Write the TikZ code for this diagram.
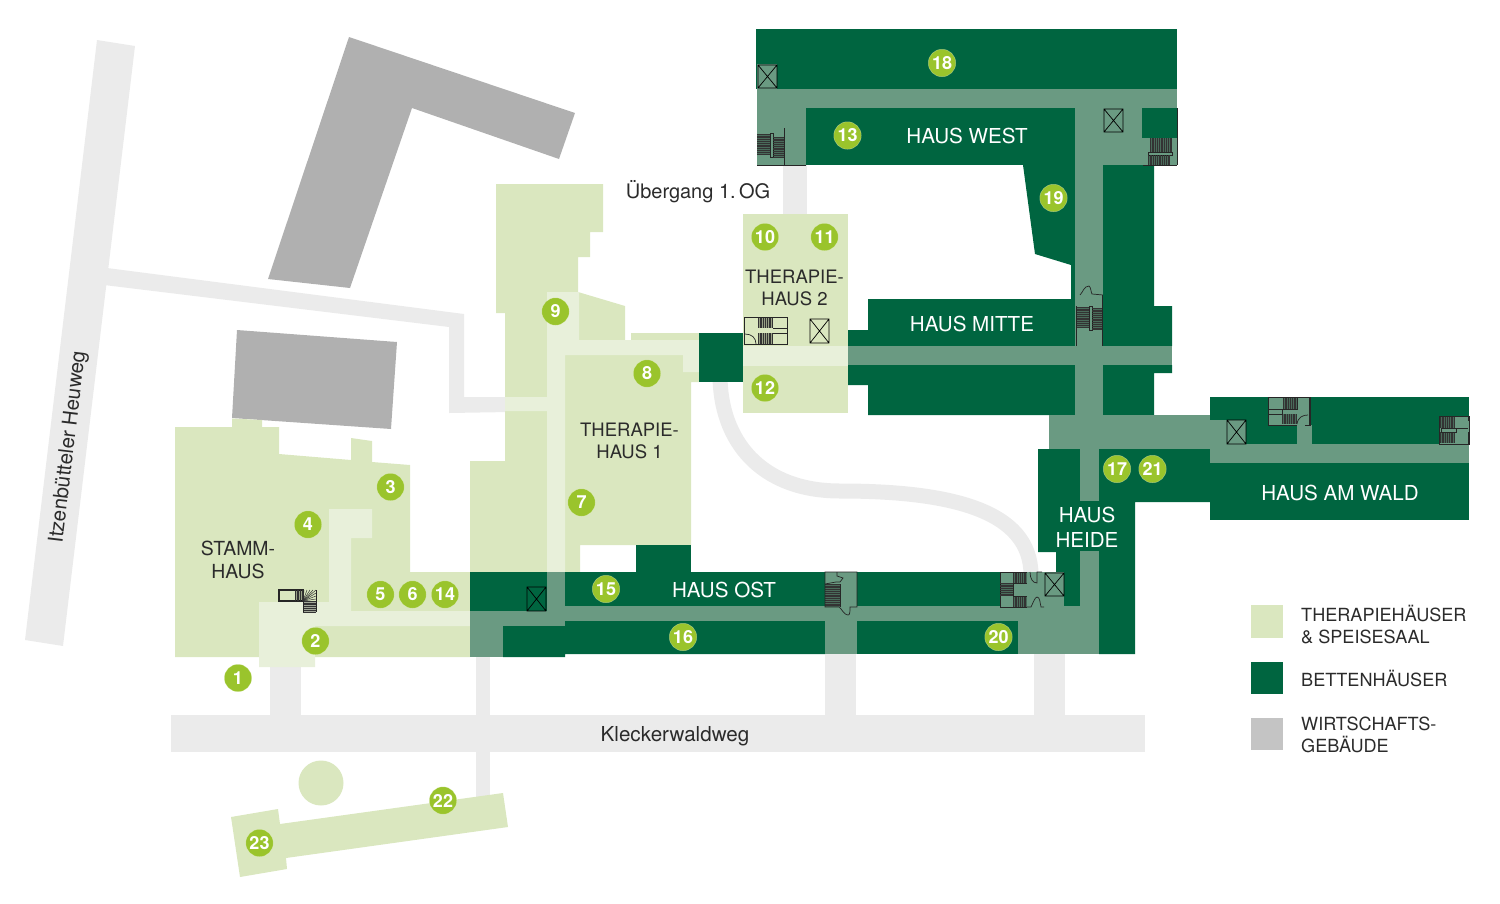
\documentclass[tikz,border=0pt]{standalone}
\usepackage{fontspec}
\setmainfont{TeX Gyre Heros}
\definecolor{roadc}{HTML}{EBEBEB}
\definecolor{greyb}{HTML}{B0B0B0}
\definecolor{greyl}{HTML}{C4C4C4}
\definecolor{lightg}{HTML}{DAE7BF}
\definecolor{lightc}{HTML}{E8F0DA}
\definecolor{darkg}{HTML}{006540}
\definecolor{corr}{HTML}{6A9A82}
\definecolor{badgec}{HTML}{9AC42C}
\definecolor{inkc}{HTML}{2B2B2B}
\tikzset{
  road/.style={fill=roadc},
  grayhouse/.style={fill=greyb},
  therapy/.style={fill=lightg},
  therapycorr/.style={fill=lightc},
  bedhouse/.style={fill=darkg},
  bedcorr/.style={fill=corr},
  badge/.style={circle,fill=badgec,draw=white,draw opacity=.35,line width=.5pt,minimum size=27.5pt,inner sep=0pt,text=white,font=\fontsize{18}{18}\selectfont\bfseries},
  darklabel/.style={text=inkc,align=center,inner sep=0pt,font=\fontsize{18.5}{22.5}\selectfont},
  whitelabel/.style={text=white,align=center,inner sep=0pt,font=\fontsize{20.6}{25}\selectfont},
  legendlabel/.style={text=inkc,align=left,anchor=west,inner sep=0pt,font=\fontsize{18.1}{22}\selectfont},
  lift/.style={draw=black,line width=.7pt},
  stairline/.style={draw=black!80,line width=.5pt},
  planline/.style={draw=black!85,line width=.7pt},
  heavyline/.style={draw=black!85,line width=1.2pt},
}
\newcommand{\hatchV}[4]{%
  \fill[black,opacity=.3] (#1,#2) rectangle (#3,#4);
  \pgfmathsetmacro{\hn}{int((#3-#1)/1.8)}
  \foreach \k in {0,...,\hn}{\draw[stairline] ({#1+1.8*\k},#2) -- ({#1+1.8*\k},#4);}
}
\newcommand{\hatchH}[4]{%
  \fill[black,opacity=.3] (#1,#2) rectangle (#3,#4);
  \pgfmathsetmacro{\hn}{int((#4-#2)/1.8)}
  \foreach \k in {0,...,\hn}{\draw[stairline] (#1,{#2+1.8*\k}) -- (#3,{#2+1.8*\k});}
}
\newcommand{\liftbox}[4]{\draw[lift] (#1,#2) rectangle (#3,#4) (#1,#2) -- (#3,#4) (#1,#4) -- (#3,#2);}
\begin{document}
\begin{tikzpicture}[x=1pt,y=-1pt]
\useasboundingbox (0,0) rectangle (1500,903);
% roads
\fill[road] (97,40) -- (135,46) -- (63,646) -- (25,640) -- cycle;
\fill[road] (107,268) -- (464,314) -- (464,397) -- (510,397) -- (510,412) -- (449,413) -- (449,327) -- (104,285) -- cycle;
\fill[road] (171,715) rectangle (1145,752);
\fill[road] (270,660) rectangle (301,715);
\fill[road] (476,657) rectangle (490,797);
\fill[road] (825,654) rectangle (856,715);
\fill[road] (1034,654) rectangle (1065,715);
\fill[road] (783,160) rectangle (807,216);
\draw[roadc,line width=15pt] (720,375) .. controls (720,440) and (760,491) .. (840,491) .. controls (950,491) and (1031,510) .. (1031,575);
% service buildings
\fill[grayhouse] (349,37) -- (575,113) -- (559,159) -- (412,108) -- (350,288) -- (268,279) -- cycle;
\fill[grayhouse] (237,330) -- (397,342) -- (391,429) -- (232,418) -- cycle;
% therapy houses
\fill[therapy] (175,427) -- (232,427) -- (232,418.5) -- (262,420) -- (262,427) -- (279,427) -- (279,454) -- (351,460) -- (351,438) -- (372,441) -- (372,462) -- (410,465) -- (410,572) -- (470,572) -- (470,657) -- (175,657) -- cycle;
\fill[therapycorr] (259,602) -- (329,602) -- (329,509) -- (372,509) -- (372,538) -- (351,538) -- (351,611) -- (470,611) -- (470,626) -- (315,626) -- (315,667) -- (259,667) -- cycle;
\fill[therapy] (496,184) -- (603,184) -- (603,232) -- (590,232) -- (590,257) -- (578,257) -- (578,292) -- (625,306) -- (625,340) -- (631,340) -- (631,333) -- (699,333) -- (699,382) -- (691,382) -- (691,545) -- (580,545) -- (580,572) -- (470,572) -- (470,461) -- (505,461) -- (505,313) -- (496,313) -- cycle;
\fill[therapycorr] (547,292) -- (579,292) -- (579,340) -- (699,340) -- (699,372) -- (683,372) -- (683,355) -- (565,355) -- (565,572) -- (547,572) -- (547,411) -- (505,411) -- (505,397) -- (547,397) -- cycle;
% bed houses: rooms
\fill[bedhouse] (756,29) rectangle (1177,89);
\fill[bedhouse] (806,108) rectangle (1075,165);
\fill[bedhouse] (1023,165) -- (1075,165) -- (1075,299) -- (1071,299) -- (1071,265) -- (1035,254) -- cycle;
\fill[bedhouse] (848,330) -- (868,330) -- (868,299) -- (1075,299) -- (1075,346) -- (848,346) -- cycle;
\fill[bedhouse] (848,365) -- (1075,365) -- (1075,415) -- (868,415) -- (868,385) -- (848,385) -- cycle;
\fill[bedhouse] (1142,108) rectangle (1177,138);
\fill[bedhouse] (1103,165) -- (1154,165) -- (1154,306) -- (1172,306) -- (1172,346) -- (1103,346) -- cycle;
\fill[bedhouse] (1103,365) -- (1172,365) -- (1172,373) -- (1154,373) -- (1154,415) -- (1103,415) -- cycle;
\fill[bedhouse] (1038,449) -- (1080,449) -- (1080,501) -- (1099,501) -- (1099,449) -- (1210,449) -- (1210,502) -- (1135,502) -- (1135,654) -- (1099,654) -- (1099,551) -- (1080,551) -- (1080,607) -- (1056,607) -- (1056,552) -- (1038,552) -- cycle;
\fill[bedhouse] (1210,397) rectangle (1469,444);
\fill[bedhouse] (1210,463) rectangle (1469,520);
\fill[bedhouse] (470,572) rectangle (547,611);
\fill[bedhouse] (565,572) rectangle (825,606);
\fill[bedhouse] (857,572) rectangle (1000,607);
\fill[bedhouse] (636,545) rectangle (691,572);
\fill[bedhouse] (503,626) -- (563,626) -- (563,621) -- (825,621) -- (825,654) -- (565,654) -- (565,657) -- (503,657) -- cycle;
\fill[bedhouse] (857,621) rectangle (1018,654);
\fill[bedhouse] (699,333) rectangle (744,382);
% bed houses: corridors
\fill[bedcorr] (757,89) rectangle (1177,108);
\fill[bedcorr] (757,64) rectangle (777,89);
\fill[bedcorr] (757,108) rectangle (806,165);
\fill[bedcorr] (1075,108) rectangle (1103,415);
\fill[bedcorr] (1103,108) rectangle (1142,165);
\fill[bedcorr] (1142,138) rectangle (1177,165);
\fill[bedcorr] (848,346) rectangle (1172,365);
\fill[bedcorr] (1049,415) rectangle (1210,449);
\fill[bedcorr] (1080,449) rectangle (1099,501);
\fill[bedcorr] (1080,551) rectangle (1099,654);
\fill[bedcorr] (1210,420) rectangle (1227,444);
\fill[bedcorr] (1227,420) rectangle (1246,444);
\fill[bedcorr] (1210,444) rectangle (1469,463);
\fill[bedcorr] (1297,425) rectangle (1312,444);
\fill[bedcorr] (1268,397) rectangle (1310,425);
\fill[bedcorr] (1439,416) rectangle (1469,444);
\fill[bedcorr] (565,606) rectangle (1080,621);
\fill[bedcorr] (470,611) rectangle (565,626);
\fill[bedcorr] (547,572) rectangle (565,611);
\fill[bedcorr] (470,626) rectangle (503,657);
\fill[bedcorr] (825,572) rectangle (857,654);
\fill[bedcorr] (1000,572) rectangle (1064,607);
\fill[bedcorr] (1018,621) rectangle (1099,654);
% Therapiehaus 2
\fill[therapy] (743,214) rectangle (848,413);
\fill[therapycorr] (743,346) rectangle (848,366);
% lifts
\liftbox{758}{65}{777}{88}
\liftbox{1104}{109}{1123}{132}
\liftbox{810}{319}{829}{343}
\liftbox{527}{587}{546}{611}
\liftbox{1045}{573}{1064}{596}
\liftbox{1227}{420}{1246}{444}
% stairs Haus West
\hatchH{757}{134}{770}{155}
\draw[planline] (770,133) rectangle (773,157);
\hatchH{773}{137}{784}{157}
\draw[planline] (784,128) -- (784,165);
\draw[planline] (757,165) -- (806,165);
\hatchV{1150}{138}{1172}{152}
\draw[planline] (1148,152) rectangle (1172,155);
\hatchV{1148}{155}{1170}{165}
\draw[planline] (1143,165) -- (1177,165);
\draw[planline] (1177,108) -- (1177,165);
% stairs Haus Mitte
\hatchH{1076}{307}{1089}{327}
\draw[planline] (1089,306) rectangle (1092,330);
\hatchH{1092}{308}{1102}{330}
\draw[planline] (1076,306) -- (1076,346);
\draw[heavyline] (1102.5,295) -- (1102.5,346);
\draw[planline] (1080,295) .. controls (1083,292) and (1084,286) .. (1089,286) .. controls (1091,287) and (1091,293) .. (1092,294) -- (1103,295);
% stairs Therapiehaus 2
\draw[planline] (744,317) rectangle (787,344);
\hatchV{758}{318}{773}{328}
\hatchV{758}{333}{773}{344}
\draw[planline] (773,328) -- (787,328) (773,333) -- (787,333);
\draw[planline] (745,334) .. controls (752,334) and (756,338) .. (756,344);
\draw[heavyline] (744.5,317) -- (744.5,345);
% stairs Stammhaus
\draw[heavyline] (279,590) rectangle (303,601);
\hatchV{295}{590}{303}{601}
\foreach \px/\py in {304/590,307/590,310/590,313/590,316/590,316/593,316/596,316/599,316/601}{\draw[stairline] (303,601) -- (\px,\py);}
\hatchH{303}{601}{316}{612}
\draw[planline] (303,601) -- (303,612) (316,590) -- (316,612);
% stairs Haus Ost 1
\hatchH{825}{584}{840}{607}
\draw[planline] (825,584) -- (825,572) -- (857,572) -- (857,607) -- (850,607) .. controls (850,612) and (850,615) .. (848,615) .. controls (844,615) and (842,609) .. (839,607) -- (825,607) -- cycle;
\draw[planline] (840,584) -- (840,607);
\draw[planline] (837,572) -- (837,576) -- (843,578) -- (840,582) -- (836,582) -- (825,584);
% stairs Haus Ost 2
\draw[planline] (1000,572) rectangle (1013,607);
\hatchV{1013}{572}{1027}{583}
\hatchH{1000}{583}{1013}{596}
\hatchV{1013}{596}{1027}{607}
\draw[planline] (1013,572) -- (1027,572) (1013,583) -- (1027,583) (1013,596) -- (1027,596) (1013,607) -- (1027,607);
\draw[planline] (1030,572) .. controls (1030,579) and (1033,583) .. (1037,583) -- (1037,572) -- (1042,572);
\draw[planline] (1027,607) -- (1031,607) .. controls (1033,603) and (1035,597) .. (1037,597) .. controls (1040,597) and (1040,603) .. (1041,607) -- (1044,607);
% stairs Haus am Wald 1
\draw[planline] (1268,397) rectangle (1310,425);
\hatchV{1283}{398}{1297}{409}
\hatchV{1282}{414}{1297}{424}
\draw[planline] (1269,409) -- (1282,409) -- (1282,414) -- (1269,414) (1297,397) -- (1297,409) -- (1283,409);
\draw[heavyline] (1310,397) -- (1310,425);
\fill[bedcorr] (1297,424) rectangle (1305,426);
\draw[planline] (1297,424) .. controls (1298,417) and (1303,415) .. (1308,415);
% stairs Haus am Wald 2
\draw[planline] (1439,416) rectangle (1469,444);
\hatchV{1440}{417}{1455}{428}
\hatchV{1440}{432}{1455}{443}
\draw[planline] (1441,428) rectangle (1456,432);
\draw[planline] (1456,428) -- (1468,428);
\draw[heavyline] (1468.3,416) -- (1468.3,421) (1468.3,432) -- (1468.3,444);
% Haus 22/23 and circle
\fill[therapy] (231,817) -- (278,809) -- (280,824) -- (503,793) -- (508,827) -- (286,858) -- (287,869) -- (240,877) -- cycle;
\fill[therapy] (321,783) circle (22.5);
% text labels
\node[darklabel,font=\fontsize{19.4}{22.5}\selectfont] (stammhaus) at (238,560) {STAMM-\\HAUS};
\node[darklabel] (th1) at (629.5,441) {THERAPIE-\\HAUS 1};
\node[darklabel] (th2) at (794.5,288) {THERAPIE-\\HAUS 2};
\node[whitelabel] (west) at (967,136) {HAUS WEST};
\node[whitelabel] (mitte) at (972,323.5) {HAUS MITTE};
\node[whitelabel] (ost) at (724,590) {HAUS OST};
\node[whitelabel] (heide) at (1087,527) {HAUS\\HEIDE};
\node[whitelabel] (wald) at (1340,493) {HAUS AM WALD};
\node[darklabel,font=\fontsize{20}{22}\selectfont] (uebergang) at (698,192) {Übergang 1.\,OG};
\node[darklabel,font=\fontsize{20.6}{22}\selectfont] (kleck) at (675,736) {Kleckerwaldweg};
\node[darklabel,rotate=83.2,font=\fontsize{20.5}{22}\selectfont] (heuweg) at (68.5,447) {Itzenbütteler Heuweg};
% badges
\foreach \nm/\bx/\by in {1/238/678,2/315.5/641,3/390.5/487,4/308/524.5,5/380.5/594.5,6/412.5/594.5,14/445/594.5,7/581.5/502.5,8/647/373.5,9/555.5/311.5,10/765/237,11/824.5/237,12/765/388,13/847.5/135.5,15/606/589,16/683/637,17/1117/469,18/942/63,19/1053.5/198,20/998.5/637,21/1152.5/469,22/443/800.5,23/259.5/843}{
  \node[badge] (b\nm) at (\bx,\by) {\nm};
}
% legend
\fill[therapy] (1251,605) rectangle (1283,637.5);
\fill[bedhouse] (1251,661.5) rectangle (1283,694);
\fill[greyl] (1251,718) rectangle (1283,750);
\node[legendlabel] (lg1) at (1301,625) {THERAPIEHÄUSER\\\& SPEISESAAL};
\node[legendlabel] (lg2) at (1301,678.5) {BETTENHÄUSER};
\node[legendlabel] (lg3) at (1301,735) {WIRTSCHAFTS-\\GEBÄUDE};
\end{tikzpicture}
\end{document}
